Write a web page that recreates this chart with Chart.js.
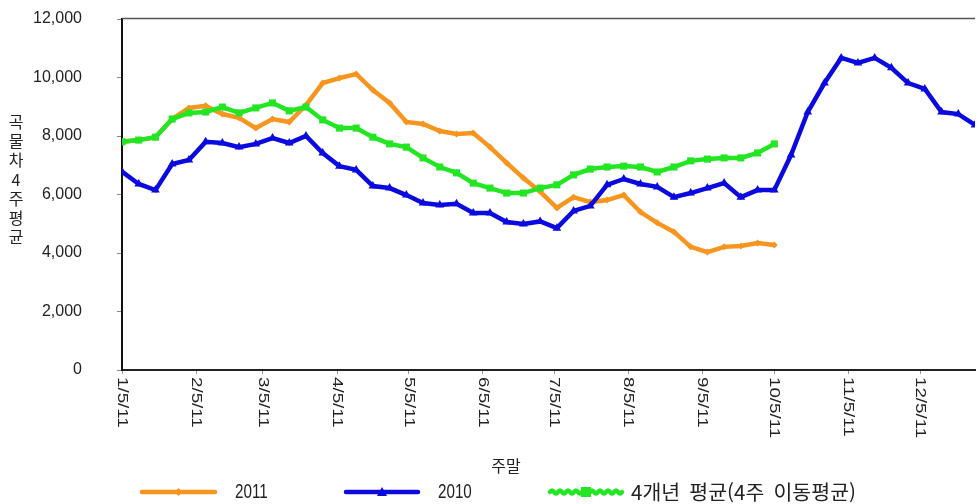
<!DOCTYPE html>
<html lang="ko">
<head>
<meta charset="utf-8">
<title>곡물차 4주평균</title>
<script src="https://cdn.jsdelivr.net/npm/chart.js@4.4.1/dist/chart.umd.min.js"></script>
<style>
  html, body { margin: 0; padding: 0; background: #ffffff; }
  #wrap { width: 980px; height: 504px; position: relative; }
</style>
</head>
<body>
<div id="wrap"><canvas id="chart" width="980" height="504"></canvas></div>
<script>
// Weekly grain-car loadings, 4-week average (week ending dates from 1/5/11)
const seriesNames = ['2011', '2010', '4개년  평균(4주  이동평균)'];

const values2011 = [
  7800, 7860, 7960, 8580, 8960, 9030, 8750, 8620, 8270, 8580,
  8480, 9060, 9810, 9980, 10120, 9570, 9130, 8480, 8410, 8170,
  8070, 8100, 7620, 7080, 6560, 6100, 5540, 5910, 5740, 5810,
  5980, 5400, 5030, 4720, 4210, 4030, 4210, 4240, 4340, 4270
];

const values2010 = [
  6780, 6360, 6150, 7040, 7180, 7800, 7760, 7620, 7730, 7930,
  7760, 8000, 7420, 6970, 6840, 6290, 6220, 5980, 5710, 5640,
  5680, 5370, 5370, 5060, 4990, 5080, 4850, 5440, 5610, 6330,
  6530, 6360, 6260, 5910, 6050, 6220, 6390, 5910, 6150, 6150,
  7350, 8820, 9810, 10670, 10500, 10670, 10330, 9810, 9610, 8820,
  8750, 8380
];

const valuesFourYearAvg = [
  7800, 7860, 7960, 8580, 8790, 8820, 8990, 8790, 8960, 9130,
  8860, 8990, 8550, 8270, 8270, 7960, 7730, 7620, 7250, 6940,
  6740, 6390, 6220, 6050, 6050, 6220, 6330, 6670, 6870, 6940,
  6970, 6940, 6770, 6940, 7150, 7210, 7250, 7250, 7420, 7730
];

const tickLabels = ['1/5/11', '2/5/11', '3/5/11', '4/5/11', '5/5/11', '6/5/11',
                    '7/5/11', '8/5/11', '9/5/11', '10/5/11', '11/5/11', '12/5/11'];

const yMax = 12000;
const yStep = 2000;

// x is measured in days since the first week-ending date (Jan 5)
const DAY = 86400000;
const startDate = Date.UTC(2011, 0, 5);
const tickDays = tickLabels.map(function (lbl) {
  const p = lbl.split('/');
  return (Date.UTC(2000 + Number(p[2]), Number(p[0]) - 1, Number(p[1])) - startDate) / DAY;
});
const lastDay = (values2010.length - 1) * 7;

function weekly(values) {
  return values.map(function (v, i) { return { x: i * 7, y: v }; });
}

const colors = ['#f7951f', '#0a0ae0', '#22e622'];
const pointStyles = ['rectRot', 'triangle', 'rect'];
const pointRadii = [3.5, 5, 5];

const datasets = [values2011, values2010, valuesFourYearAvg].map(function (vals, i) {
  return {
    label: seriesNames[i],
    data: weekly(vals),
    borderColor: colors[i],
    backgroundColor: colors[i],
    borderWidth: 4.5,
    pointStyle: pointStyles[i],
    pointRadius: pointRadii[i],
    pointBorderWidth: 0,
    tension: 0,
    order: [2, 1, 0][i]
  };
});

const textColor = '#222222';
const latinFont = '"Liberation Sans", Arial, sans-serif';
const krFont = '"Noto Sans CJK KR", "Noto Sans", sans-serif';

// Frame line, rotated date labels, axis titles and the legend row
const decorations = {
  id: 'decorations',
  afterDraw(chart) {
    const ctx = chart.ctx;
    const area = chart.chartArea;
    const xs = chart.scales.x;

    ctx.save();
    // top frame line
    ctx.strokeStyle = '#555555';
    ctx.lineWidth = 1.5;
    ctx.beginPath();
    ctx.moveTo(area.left, area.top - 0.5);
    ctx.lineTo(area.right, area.top - 0.5);
    ctx.stroke();

    // date labels, reading top to bottom
    ctx.fillStyle = textColor;
    ctx.font = '15px ' + latinFont;
    ctx.textAlign = 'left';
    ctx.textBaseline = 'middle';
    tickDays.forEach(function (d, i) {
      const px = xs.getPixelForValue(d);
      ctx.save();
      ctx.translate(px, area.bottom + 7);
      ctx.rotate(Math.PI / 2);
      ctx.scale(1.25, 1);
      ctx.fillText(tickLabels[i], 0, 0);
      ctx.restore();
    });

    // vertical y-axis title, one upright character per row
    ctx.font = '16px ' + krFont;
    ctx.textAlign = 'center';
    const yTitle = '곡물차4주평균';
    Array.from(yTitle).forEach(function (ch, i) {
      ctx.fillText(ch, 16, 122 + i * 19.2);
    });

    // x-axis title
    ctx.font = '16px ' + krFont;
    ctx.fillText('주말', 506, 466);

    // legend
    const items = [
      { x0: 142, x1: 215, tx: 235 },
      { x0: 346, x1: 418, tx: 438 },
      { x0: 550, x1: 622, tx: 631 }
    ];
    const ly = 492;
    items.forEach(function (it, i) {
      const ds = chart.data.datasets[i];
      ctx.strokeStyle = ds.borderColor;
      ctx.fillStyle = ds.borderColor;
      ctx.lineWidth = 4.5;
      ctx.lineCap = 'round';
      ctx.beginPath();
      if (i === 2) {
        // the dense square markers make this line look wavy
        ctx.moveTo(it.x0, ly);
        for (let x = it.x0; x < it.x1; x += 8) {
          ctx.quadraticCurveTo(x + 2, ly - 3, x + 4, ly);
          ctx.quadraticCurveTo(x + 6, ly + 3, Math.min(x + 8, it.x1), ly);
        }
      } else {
        ctx.moveTo(it.x0, ly);
        ctx.lineTo(it.x1, ly);
      }
      ctx.stroke();
      const cx = (it.x0 + it.x1) / 2;
      ctx.beginPath();
      if (i === 0) {
        ctx.moveTo(cx, ly - 4); ctx.lineTo(cx + 4, ly); ctx.lineTo(cx, ly + 4); ctx.lineTo(cx - 4, ly);
      } else if (i === 1) {
        ctx.moveTo(cx, ly - 5); ctx.lineTo(cx + 5, ly + 4); ctx.lineTo(cx - 5, ly + 4);
      } else {
        ctx.rect(cx - 5, ly - 5, 10, 10);
      }
      ctx.closePath();
      ctx.fill();

      ctx.fillStyle = textColor;
      ctx.textAlign = 'left';
      ctx.textBaseline = 'middle';
      ctx.save();
      ctx.translate(it.tx, ly);
      if (i === 2) {
        ctx.font = '19px ' + krFont;
        ctx.scale(1.08, 1.05);
      } else {
        ctx.font = '16px ' + latinFont;
        ctx.scale(0.95, 1.25);
      }
      ctx.fillText(ds.label, 0, 0);
      ctx.restore();
    });
    ctx.restore();
  }
};

new Chart(document.getElementById('chart'), {
  type: 'line',
  data: { datasets: datasets },
  plugins: [decorations],
  options: {
    responsive: false,
    animation: false,
    devicePixelRatio: 1,
    layout: { padding: { top: 19, right: 0, bottom: 0, left: 0 } },
    plugins: {
      legend: { display: false },
      tooltip: { enabled: false }
    },
    scales: {
      x: {
        type: 'linear',
        min: 0,
        max: lastDay,
        afterBuildTicks(scale) {
          scale.ticks = tickDays.map(function (d) { return { value: d }; });
        },
        afterFit(scale) {
          scale.height = 134;
          scale.paddingLeft = 0;
          scale.paddingRight = 0;
        },
        border: { display: true, color: '#222222', width: 2 },
        grid: { drawOnChartArea: false, drawTicks: true, tickLength: 4, color: '#999999' },
        ticks: { display: false }
      },
      y: {
        min: 0,
        max: yMax,
        afterFit(scale) {
          scale.width = 122;
          scale.paddingTop = 0;
          scale.paddingBottom = 0;
        },
        border: { display: true, color: '#111111', width: 2 },
        grid: { drawOnChartArea: false, drawTicks: true, tickLength: 5, color: '#888888' },
        ticks: {
          stepSize: yStep,
          padding: 35,
          color: textColor,
          font: { family: latinFont, size: 16 },
          callback: function (v) { return v.toLocaleString('en-US'); }
        }
      }
    }
  }
});
</script>
</body>
</html>
